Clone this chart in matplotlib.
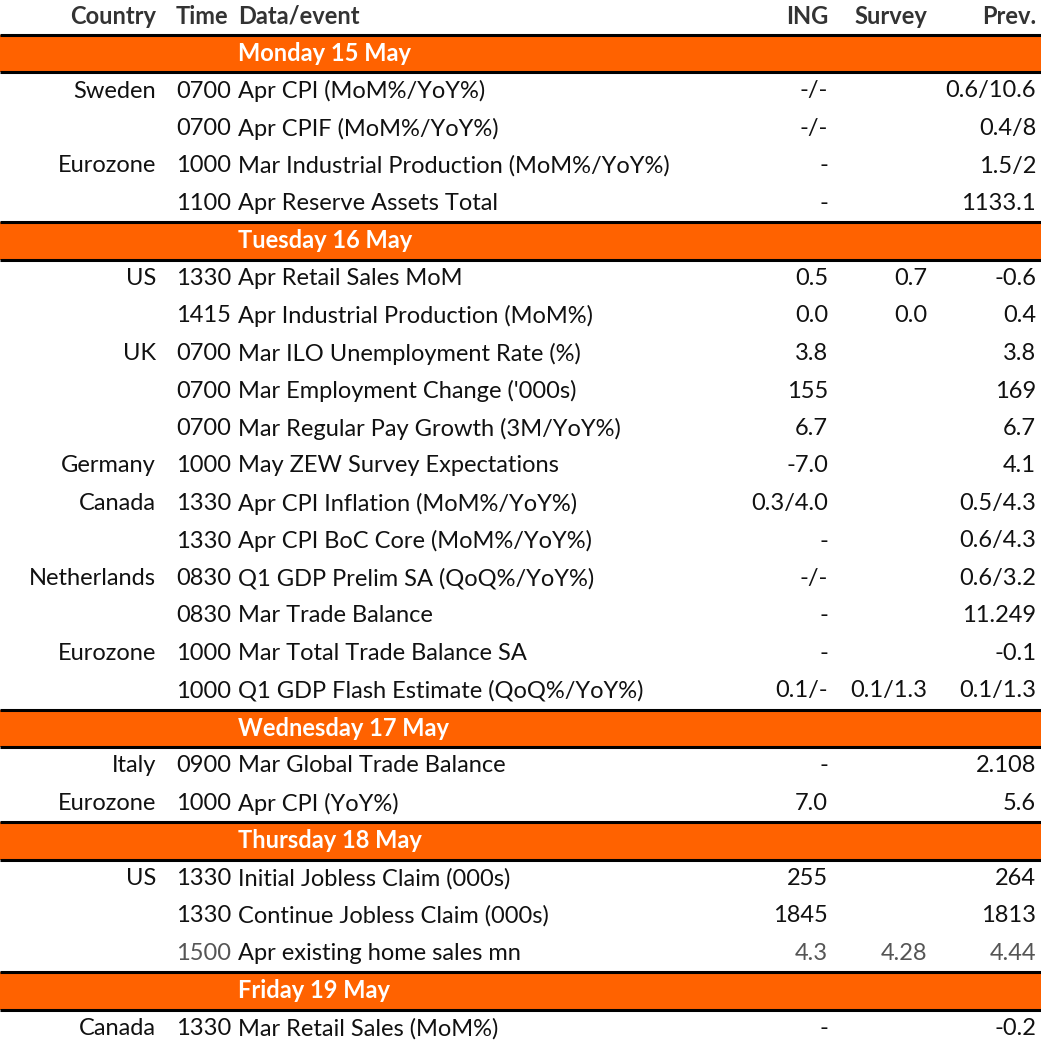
import matplotlib
matplotlib.use('Agg')
import matplotlib.pyplot as plt
from matplotlib.patches import Rectangle

# data
days = ['Monday 15 May', 'Tuesday 16 May', 'Wednesday 17 May', 'Thursday 18 May', 'Friday 19 May']
day_of_row = [0, 0, 0, 0,
              1, 1, 1, 1, 1, 1, 1, 1, 1, 1, 1, 1,
              2, 2,
              3, 3, 3,
              4]
countries = ['Sweden', '', 'Eurozone', '',
             'US', '', 'UK', '', '', 'Germany', 'Canada', '', 'Netherlands', '', 'Eurozone', '',
             'Italy', 'Eurozone',
             'US', '', '',
             'Canada']
times = ['0700', '0700', '1000', '1100',
         '1330', '1415', '0700', '0700', '0700', '1000', '1330', '1330', '0830', '0830', '1000', '1000',
         '0900', '1000',
         '1330', '1330', '1500',
         '1330']
events = ['Apr CPI (MoM%/YoY%)', 'Apr CPIF (MoM%/YoY%)', 'Mar Industrial Production (MoM%/YoY%)',
          'Apr Reserve Assets Total',
          'Apr Retail Sales MoM', 'Apr Industrial Production (MoM%)', 'Mar ILO Unemployment Rate (%)',
          "Mar Employment Change ('000s)", 'Mar Regular Pay Growth (3M/YoY%)', 'May ZEW Survey Expectations',
          'Apr CPI Inflation (MoM%/YoY%)', 'Apr CPI BoC Core (MoM%/YoY%)', 'Q1 GDP Prelim SA (QoQ%/YoY%)',
          'Mar Trade Balance', 'Mar Total Trade Balance SA', 'Q1 GDP Flash Estimate (QoQ%/YoY%)',
          'Mar Global Trade Balance', 'Apr CPI (YoY%)',
          'Initial Jobless Claim (000s)', 'Continue Jobless Claim (000s)', 'Apr existing home sales mn',
          'Mar Retail Sales (MoM%)']
ing = ['-/-', '-/-', '-', '-',
       '0.5', '0.0', '3.8', '155', '6.7', '-7.0', '0.3/4.0', '-', '-/-', '-', '-', '0.1/-',
       '-', '7.0',
       '255', '1845', '4.3',
       '-']
survey = ['', '', '', '',
          '0.7', '0.0', '', '', '', '', '', '', '', '', '', '0.1/1.3',
          '', '',
          '', '', '4.28',
          '']
prev = ['0.6/10.6', '0.4/8', '1.5/2', '1133.1',
        '-0.6', '0.4', '3.8', '169', '6.7', '4.1', '0.5/4.3', '0.6/4.3', '0.6/3.2', '11.249', '-0.1', '0.1/1.3',
        '2.108', '5.6',
        '264', '1813', '4.44',
        '-0.2']
muted_rows = [20]  # the greyed-out existing home sales line
headers = ['Country', 'Time', 'Data/event', 'ING', 'Survey', 'Prev.']

W, H = 1041, 1049
ORANGE = '#FF6200'
TXT = '#111111'
HDR = '#333333'
MUTED = '#555555'
FONT = 'Lato'
FS = 17

fig = plt.figure(figsize=(W / 100, H / 100), dpi=100)
ax = fig.add_axes([0, 0, 1, 1])
ax.set_xlim(0, W)
ax.set_ylim(H, 0)
ax.axis('off')

# column anchors (x, alignment)
cols = [(156, 'right'), (176, 'left'), (238, 'left'), (828, 'right'), (927, 'right'), (1036, 'right')]

y0, pitch = 16, 37.5  # centre of header row, row pitch


def put(i, col, s, color=TXT, weight='normal'):
    x, ha = cols[col]
    ax.text(x, y0 + i * pitch, s, ha=ha, va='center', fontsize=FS, family=FONT,
            color=color, weight=weight)


for c, h in enumerate(headers):
    put(0, c, h, color=HDR, weight='bold')

line = 1
last_day = -1
for r in range(len(events)):
    if day_of_row[r] != last_day:
        last_day = day_of_row[r]
        yc = y0 + line * pitch
        ax.add_patch(Rectangle((0, yc - pitch / 2), W, pitch, facecolor=ORANGE, edgecolor='none'))
        ax.plot([0, W], [yc - pitch / 2] * 2, color='black', lw=2.2, solid_capstyle='butt')
        ax.plot([0, W], [yc + pitch / 2] * 2, color='black', lw=2.2, solid_capstyle='butt')
        put(line, 2, days[last_day], color='white', weight='bold')
        line += 1
    muted = r in muted_rows
    put(line, 0, countries[r])
    put(line, 1, times[r], color=MUTED if muted else TXT)
    put(line, 2, events[r])
    for c, v in zip((3, 4, 5), (ing[r], survey[r], prev[r])):
        put(line, c, v, color=MUTED if muted else TXT)
    line += 1

fig.savefig('out.png', dpi=100)
